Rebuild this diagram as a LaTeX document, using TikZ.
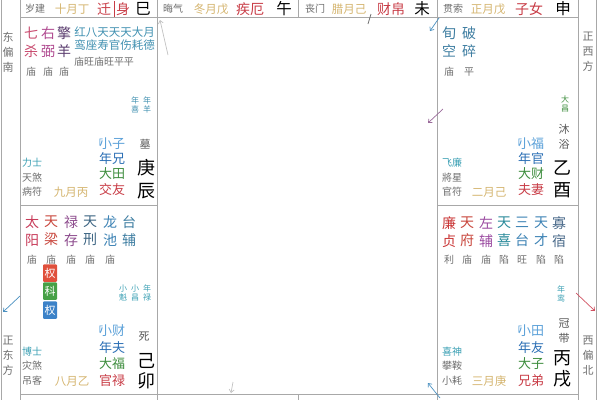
\documentclass[tikz,border=0pt]{standalone}
\usepackage{fontspec}
\setmainfont{Noto Sans CJK SC}
\usetikzlibrary{arrows.meta}
\definecolor{gridgray}{HTML}{A8A8A8}
\definecolor{palred}{HTML}{C83C46}
\definecolor{monthy}{HTML}{D4B46E}
\definecolor{taggray}{HTML}{6E6E6E}
\definecolor{tealtag}{HTML}{3CA0B4}
\definecolor{minorblue}{HTML}{4090B0}
\definecolor{xiaoBlue}{HTML}{5AA0D8}
\definecolor{nianBlue}{HTML}{2A6EB4}
\definecolor{daGreen}{HTML}{3C8C3C}
\definecolor{shaRed}{HTML}{C84A6E}
\definecolor{biPurple}{HTML}{B04A90}
\definecolor{yangPurple}{HTML}{5A3C6E}
\definecolor{yangRed}{HTML}{C83C5A}
\definecolor{liangRed}{HTML}{C8463C}
\definecolor{luPurple}{HTML}{8C4A8C}
\definecolor{xingBlue}{HTML}{3C6482}
\definecolor{chiBlue}{HTML}{3C82B4}
\definecolor{fuTeal}{HTML}{3C7CA0}
\definecolor{lianRed}{HTML}{C83232}
\definecolor{zuoPurple}{HTML}{9A4AA0}
\definecolor{xiTeal}{HTML}{2A8A9A}
\definecolor{guaBlue}{HTML}{4A6A8A}
\definecolor{quanRed}{HTML}{E0503C}
\definecolor{keGreen}{HTML}{46A046}
\definecolor{quanBlue}{HTML}{3C82C8}
\definecolor{arrBlue}{HTML}{4A90C0}
\definecolor{arrPurple}{HTML}{9A6A9A}
\definecolor{arrRed}{HTML}{D05060}
\newcommand\fsz[2]{\fontsize{#1}{#2}\selectfont}
\tikzset{
  gridline/.style={draw=gridgray, line width=0.8pt},
  ganzhi/.style={font=\fsz{18}{18}, text=black, inner sep=0pt},
  topgz/.style={font=\fsz{15.5}{15.5}, text=black, inner sep=0pt},
  palname/.style={font=\fsz{14}{14}, text=palred, inner sep=0pt},
  tagtxt/.style={font=\fsz{10}{10}, text=taggray, inner sep=0pt},
  monthtxt/.style={font=\fsz{11.5}{11.5}, text=monthy, inner sep=0pt},
  bigstar/.style={font=\fsz{14}{18}, align=center, inner sep=0pt},
  minortxt/.style={font=\fsz{11.5}{12}, text=minorblue, inner sep=0pt},
  brighttxt/.style={font=\fsz{10}{10}, text=taggray, inner sep=0pt},
  smallstar/.style={font=\fsz{8}{9}, align=center, inner sep=0pt},
  flowtxt/.style={font=\fsz{13}{13}, inner sep=0pt},
  bracket/.style={font=\fsz{10}{10}, text=xiaoBlue, inner sep=0pt},
  phase/.style={font=\fsz{11}{15}, text=taggray!80!black, align=center, inner sep=0pt},
  dirtxt/.style={font=\fsz{11}{15}, text=taggray, align=center, inner sep=0pt},
  sihua/.style={font=\fsz{11}{11}, text=white, minimum width=14pt, minimum height=17.5pt, inner sep=0pt, rounded corners=1pt},
  fly/.style={-{Straight Barb[length=3pt,width=5pt]}, line width=0.7pt}
}

\begin{document}
\begin{tikzpicture}[x=1pt,y=-1pt]
\useasboundingbox (0,0) rectangle (600,400);

% Grid
\draw[gridline] (1.5,0) -- (1.5,400);
\draw[gridline] (596.5,0) -- (596.5,400);
\draw[gridline] (20,0) -- (20,400);
\draw[gridline] (578,0) -- (578,400);
\draw[gridline] (157.5,0) -- (157.5,400);
\draw[gridline] (437.5,0) -- (437.5,400);
\draw[gridline] (298,0) -- (298,17.5);
\draw[gridline] (298,394) -- (298,400);
\draw[gridline] (20,17.5) -- (578,17.5);
\draw[gridline] (20,394) -- (578,394);
\draw[gridline] (20,205) -- (157.5,205);
\draw[gridline] (437.5,205) -- (578,205);

% Top row
\node[tagtxt] (tagSi) at (35,9) {岁建};
\node[monthtxt] (monSi) at (72,9) {十月丁};
\node[palname] (palSi) at (104,9) {迁};
\node[palname] (shenSi) at (123,9) {身};
\draw[palred, line width=0.6pt] (114.5,1) -- (114.5,17);
\node[topgz] (gzSi) at (143,9) {巳};

\node[tagtxt] (tagWu) at (173,9) {晦气};
\node[monthtxt] (monWu) at (211,9) {冬月戊};
\node[palname] (palWu) at (250,9) {疾厄};
\node[topgz] (gzWu) at (284,9) {午};

\node[tagtxt] (tagWei) at (315,9) {丧门};
\node[monthtxt] (monWei) at (349,9) {腊月己};
\node[palname] (palWei) at (391,9) {财帛};
\node[topgz] (gzWei) at (422,9) {未};

\node[tagtxt] (tagShen) at (453,9) {贯索};
\node[monthtxt] (monShen) at (488,9) {正月戊};
\node[palname] (palShen) at (529,9) {子女};
\node[topgz] (gzShen) at (563,9) {申};

% Chen palace
\foreach \x/\s/\c [count=\i] in {31/七\\杀/shaRed, 48/右\\弼/biPurple, 64/擎\\羊/yangPurple} {
  \node[bigstar, text=\c] (chenS\i) at (\x,42) {\s};
  \node[brighttxt] (chenB\i) at (\x,72) {庙};
}
\node[minortxt] (chenMa) at (114.5,32) {红八天天天大月};
\node[minortxt] (chenMb) at (114.5,45) {鸾座寿官伤耗德};
\node[brighttxt] (chenMc) at (104,62) {庙旺庙旺平平};
\node[smallstar, text=minorblue] (chenN1) at (135,105) {年\\喜};
\node[smallstar, text=minorblue] (chenN2) at (147,105) {年\\羊};
\node[bracket] (chenK) at (98,143) {「};
\foreach \y/\t/\c [count=\i] in {144/小子/xiaoBlue, 159/年兄/nianBlue, 174/大田/daGreen, 190/交友/palred} {
  \node[flowtxt, text=\c] (chenF\i) at (112,\y) {\t};
}
\node[phase] (chenP) at (145,144) {墓};
\node[ganzhi] (chenG1) at (146,168) {庚};
\node[ganzhi] (chenG2) at (146,191) {辰};
\node[tagtxt, text=tealtag] (chenT1) at (32,163) {力士};
\node[tagtxt] (chenT2) at (32,178) {天煞};
\node[tagtxt] (chenT3) at (32,192) {病符};
\node[monthtxt] (chenMo) at (71,192) {九月丙};

% Mao palace
\foreach \x/\s/\c [count=\i] in {32/太\\阳/yangRed, 51/天\\梁/liangRed, 71/禄\\存/luPurple, 90/天\\刑/xingBlue, 110/龙\\池/chiBlue, 129/台\\辅/fuTeal} {
  \node[bigstar, text=\c] (maoS\i) at (\x,231) {\s};
}
\foreach \x [count=\i] in {32,51,71,90,110} {
  \node[brighttxt] (maoB\i) at (\x,260) {庙};
}
\node[sihua, fill=quanRed] (maoH1) at (50,273) {权};
\node[sihua, fill=keGreen] (maoH2) at (50,291) {科};
\node[sihua, fill=quanBlue] (maoH3) at (50,310) {权};
\node[smallstar, text=tealtag] (maoN1) at (123,293) {小\\魁};
\node[smallstar, text=tealtag] (maoN2) at (135,293) {小\\昌};
\node[smallstar, text=tealtag] (maoN3) at (147,293) {年\\禄};
\node[bracket] (maoK) at (98,330) {「};
\foreach \y/\t/\c [count=\i] in {331/小财/xiaoBlue, 348/年夫/nianBlue, 364/大福/daGreen, 381/官禄/palred} {
  \node[flowtxt, text=\c] (maoF\i) at (112,\y) {\t};
}
\node[phase] (maoP) at (144,337) {死};
\node[ganzhi] (maoG1) at (146,361) {己};
\node[ganzhi] (maoG2) at (146,381) {卯};
\node[tagtxt, text=tealtag] (maoT1) at (32,352) {博士};
\node[tagtxt] (maoT2) at (32,366) {灾煞};
\node[tagtxt] (maoT3) at (32,381) {吊客};
\node[monthtxt] (maoMo) at (72,381) {八月乙};

% You palace
\node[bigstar, text=fuTeal] (youS1) at (449,42) {旬\\空};
\node[bigstar, text=fuTeal] (youS2) at (469,42) {破\\碎};
\node[brighttxt] (youB1) at (449,72) {庙};
\node[brighttxt] (youB2) at (469,72) {平};
\node[smallstar, text=daGreen] (youN1) at (565,104) {大\\昌};
\node[phase] (youP) at (564,137) {沐\\浴};
\node[bracket] (youK) at (517,143) {「};
\foreach \y/\t/\c [count=\i] in {144/小福/xiaoBlue, 159/年官/nianBlue, 174/大财/daGreen, 190/夫妻/palred} {
  \node[flowtxt, text=\c] (youF\i) at (531,\y) {\t};
}
\node[ganzhi] (youG1) at (562,168) {乙};
\node[ganzhi] (youG2) at (562,190) {酉};
\node[tagtxt, text=tealtag] (youT1) at (452,163) {飞廉};
\node[tagtxt] (youT2) at (452,178) {將星};
\node[tagtxt] (youT3) at (452,192) {官符};
\node[monthtxt] (youMo) at (489,192) {二月己};

% Xu palace
\foreach \x/\s/\c/\b [count=\i] in {449/廉\\贞/lianRed/利, 467/天\\府/liangRed/庙, 486/左\\辅/zuoPurple/庙, 504/天\\喜/xiTeal/陷, 522/三\\台/chiBlue/旺, 541/天\\才/chiBlue/陷, 559/寡\\宿/guaBlue/陷} {
  \node[bigstar, text=\c] (xuS\i) at (\x,232) {\s};
  \node[brighttxt] (xuB\i) at (\x,260) {\b};
}
\node[smallstar, text=tealtag] (xuN1) at (561,294) {年\\鸾};
\node[phase] (xuP) at (564,331) {冠\\带};
\node[bracket] (xuK) at (517,330) {「};
\foreach \y/\t/\c [count=\i] in {331/小田/xiaoBlue, 348/年友/nianBlue, 364/大子/daGreen, 381/兄弟/palred} {
  \node[flowtxt, text=\c] (xuF\i) at (531,\y) {\t};
}
\node[ganzhi] (xuG1) at (562,358) {丙};
\node[ganzhi] (xuG2) at (562,379) {戌};
\node[tagtxt, text=tealtag] (xuT1) at (452,352) {喜神};
\node[tagtxt] (xuT2) at (452,366) {攀鞍};
\node[tagtxt] (xuT3) at (452,381) {小耗};
\node[monthtxt] (xuMo) at (489,381) {三月庚};

% Directions
\node[dirtxt] (dirSE) at (8,52) {东\\偏\\南};
\node[dirtxt] (dirE) at (8,356) {正\\东\\方};
\node[dirtxt] (dirW) at (588,52) {正\\西\\方};
\node[dirtxt] (dirNW) at (588,356) {西\\偏\\北};

% Arrows
\coordinate (a1s) at (168,55); \coordinate (a1e) at (160,20);
\coordinate (a2s) at (371,14); \coordinate (a2e) at (368,24);
\coordinate (a3s) at (439,18); \coordinate (a3e) at (430,31);
\coordinate (a4s) at (443,109); \coordinate (a4e) at (428,123);
\coordinate (a5s) at (20,296); \coordinate (a5e) at (3,312);
\coordinate (a6s) at (576,293); \coordinate (a6e) at (595,311);
\coordinate (a7s) at (440,398); \coordinate (a7e) at (428,383);
\coordinate (a8s) at (233,382); \coordinate (a8e) at (231,393);
\draw[fly, gridgray!70] (a1s) -- (a1e);
\draw[line width=0.8pt, taggray] (a2s) -- (a2e);
\draw[fly, arrBlue] (a3s) -- (a3e);
\draw[fly, arrPurple] (a4s) -- (a4e);
\draw[fly, arrBlue] (a5s) -- (a5e);
\draw[fly, arrRed] (a6s) -- (a6e);
\draw[fly, arrBlue] (a7s) -- (a7e);
\draw[fly, gridgray!70] (a8s) -- (a8e);

\end{tikzpicture}
\end{document}
